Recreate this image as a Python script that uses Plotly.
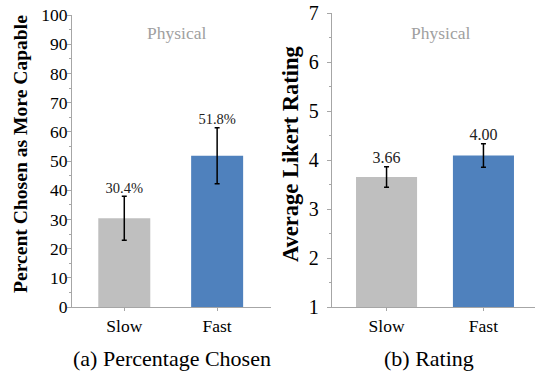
import plotly.graph_objects as go

# ---- data ----
categories = ["Slow", "Fast"]
pct_values = [30.4, 51.8]
pct_errors = [7.5, 9.6]
pct_labels = ["30.4%", "51.8%"]

rating_values = [3.66, 4.1]
rating_errors = [0.21, 0.24]
rating_labels = ["3.66", "4.00"]

bar_colors = ["#BFBFBF", "#4F81BD"]
pct_ticks = list(range(0, 101, 10))
rating_ticks = list(range(1, 8))

W, H = 535, 371
FONT = "Liberation Serif, Times New Roman, serif"
AXIS_COLOR = "#A6A6A6"

xpos = [0, 1]

fig = go.Figure()

fig.add_trace(go.Bar(
    x=xpos, y=pct_values, width=0.56, marker=dict(color=bar_colors, line=dict(width=0)),
    error_y=dict(type="data", array=pct_errors, color="black", thickness=1.5, width=2.5),
    xaxis="x", yaxis="y", showlegend=False, hoverinfo="skip"))
fig.add_trace(go.Scatter(
    x=xpos, y=[v + e for v, e in zip(pct_values, pct_errors)], mode="text",
    text=pct_labels, textposition="top center",
    textfont=dict(family=FONT, size=14.5, color="#222"),
    xaxis="x", yaxis="y", showlegend=False, hoverinfo="skip"))

fig.add_trace(go.Bar(
    x=xpos, y=[v - 1 for v in rating_values], base=1, width=0.63,
    marker=dict(color=bar_colors, line=dict(width=0)),
    error_y=dict(type="data", array=rating_errors, color="black", thickness=1.5, width=2.5),
    xaxis="x2", yaxis="y2", showlegend=False, hoverinfo="skip"))
fig.add_trace(go.Scatter(
    x=xpos, y=[v + e for v, e in zip(rating_values, rating_errors)], mode="text",
    text=rating_labels, textposition="top center",
    textfont=dict(family=FONT, size=16, color="#222"),
    xaxis="x2", yaxis="y2", showlegend=False, hoverinfo="skip"))

def px_x(p):
    return p / W

def px_y(p):
    return 1 - p / H

common_x = dict(showline=True, linecolor=AXIS_COLOR, linewidth=1, ticks="outside",
                ticklen=3, tickcolor=AXIS_COLOR, showgrid=False, zeroline=False,
                tickvals=xpos, ticktext=categories, ticklabelstandoff=0, automargin=False,
                ticklabeloverflow="allow",
                tickfont=dict(family=FONT, size=17.5, color="black"), fixedrange=True)
common_y = dict(showline=True, linecolor=AXIS_COLOR, linewidth=1, ticks="outside",
                ticklen=4, tickcolor=AXIS_COLOR, showgrid=False, zeroline=False,
                automargin=False, ticklabeloverflow="allow", fixedrange=True)

def ann(text, x, y, size, color="black", angle=0):
    return dict(text=text, x=px_x(x), y=px_y(y), xref="paper", yref="paper",
                xanchor="center", yanchor="middle", textangle=angle, showarrow=False,
                font=dict(family=FONT, size=size, color=color))

fig.update_layout(
    width=W, height=H, autosize=False,
    margin=dict(l=0, r=0, t=0, b=0, pad=0),
    font=dict(family=FONT),
    paper_bgcolor="white", plot_bgcolor="white",
    xaxis=dict(common_x, domain=[px_x(72), px_x(271)], range=[-0.563, 1.58], anchor="y"),
    yaxis=dict(common_y, domain=[px_y(307), px_y(15)], range=[0, 100], tickvals=pct_ticks,
               tickfont=dict(family=FONT, size=17.5, color="black"), ticklabelstandoff=-4,
               minor=dict(ticks="outside", ticklen=2, dtick=5, tickcolor=AXIS_COLOR),
               anchor="x"),
    xaxis2=dict(common_x, domain=[px_x(331.7), 1.0], range=[-0.566, 1.532], anchor="y2"),
    yaxis2=dict(common_y, domain=[px_y(307.3), px_y(13.3)], range=[1, 7], tickvals=rating_ticks,
                tickfont=dict(family=FONT, size=20, color="black"), ticklabelstandoff=4,
                minor=dict(ticks="outside", ticklen=2, dtick=0.5, tickcolor=AXIS_COLOR),
                anchor="x2"),
    annotations=[
        ann("<b>Percent Chosen as More Capable</b>", 20, 154, 19.6, angle=-90),
        ann("<b>Average Likert Rating</b>", 290, 154, 22.5, angle=-90),
        ann("Physical", 176, 33, 17.5, color="#A0A0A0"),
        ann("Physical", 440, 33, 17.5, color="#A0A0A0"),
        ann("(a) Percentage Chosen", 172, 358, 22),
        ann("(b) Rating", 429, 358, 22),
    ],
)

fig.write_html("out.html", config={"displayModeBar": False, "staticPlot": True},
               post_script="document.body.style.margin='0';document.body.style.overflow='hidden';")
